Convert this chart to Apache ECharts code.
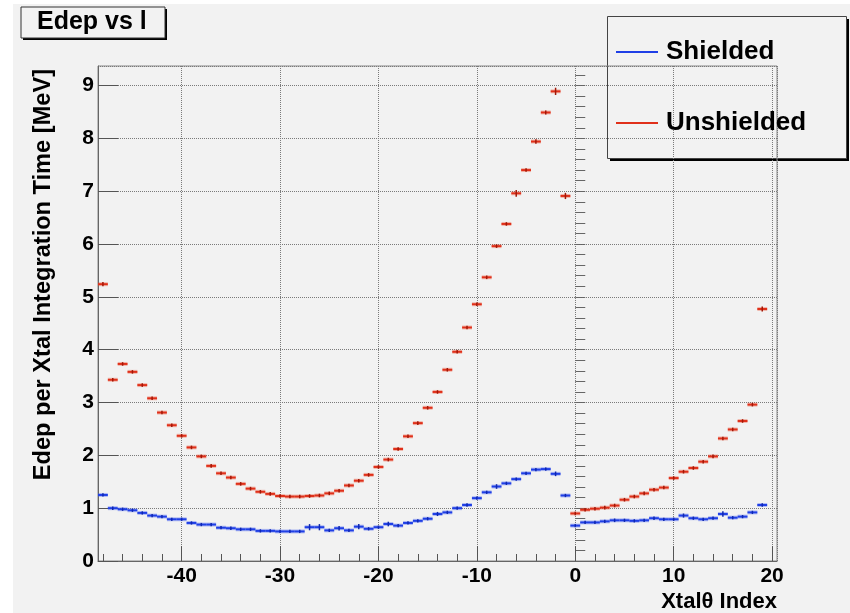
<!DOCTYPE html>
<html>
<head>
<meta charset="utf-8">
<script src="https://cdn.jsdelivr.net/npm/echarts@6/dist/echarts.min.js"></script>
<style>
  html, body { margin: 0; padding: 0; background: #ffffff; }
  #bg { position: absolute; left: 13px; top: 4px; width: 837px; height: 609px; background: #f2f2f2; }
  #chart { position: absolute; left: 0; top: 0; width: 850px; height: 613px; }
</style>
</head>
<body>
<div id="bg"></div>
<div id="chart"></div>
<script>
// ---- data (bin centers, Xtal theta index) ----
const bins = [-48,-47,-46,-45,-44,-43,-42,-41,-40,-39,-38,-37,-36,-35,-34,-33,-32,-31,-30,-29,
  -28,-27,-26,-25,-24,-23,-22,-21,-20,-19,-18,-17,-16,-15,-14,-13,-12,-11,-10,-9,
  -8,-7,-6,-5,-4,-3,-2,-1,0,1,2,3,4,5,6,7,8,9,10,11,12,13,14,15,16,17,18,19];

const unshielded = [5.24,3.43,3.73,3.58,3.33,3.08,2.81,2.57,2.37,2.15,
  1.98,1.80,1.66,1.58,1.46,1.37,1.31,1.27,1.23,1.22,
  1.22,1.23,1.24,1.28,1.33,1.43,1.52,1.63,1.78,1.92,
  2.12,2.36,2.61,2.90,3.20,3.62,3.96,4.42,4.86,5.37,
  5.96,6.38,6.96,7.40,7.94,8.49,8.89,6.91,
  0.90,0.97,0.99,1.01,1.05,1.16,1.22,1.28,1.35,1.39,
  1.57,1.69,1.76,1.88,1.98,2.32,2.49,2.65,2.96,4.77];

const shielded = [1.25,1.00,0.98,0.96,0.91,0.86,0.84,0.79,0.79,0.72,
  0.69,0.69,0.63,0.62,0.60,0.60,0.57,0.57,0.56,0.56,
  0.56,0.64,0.64,0.58,0.62,0.58,0.65,0.61,0.64,0.70,
  0.67,0.72,0.76,0.80,0.89,0.92,1.00,1.06,1.19,1.30,
  1.41,1.47,1.55,1.66,1.73,1.74,1.65,1.24,
  0.67,0.73,0.73,0.75,0.77,0.77,0.76,0.77,0.81,0.79,
  0.79,0.86,0.81,0.79,0.81,0.89,0.82,0.84,0.92,1.06];

const unshieldedErr = [0.02,0.015,0.015,0.015,0.015,0.015,0.015,0.015,0.015,0.015,
  0.015,0.015,0.015,0.015,0.015,0.015,0.015,0.015,0.015,0.015,
  0.015,0.015,0.015,0.015,0.015,0.015,0.015,0.015,0.015,0.015,
  0.015,0.015,0.015,0.015,0.015,0.015,0.015,0.015,0.015,0.015,
  0.015,0.015,0.045,0.015,0.025,0.02,0.05,0.04,
  0.015,0.015,0.015,0.015,0.015,0.015,0.015,0.015,0.015,0.015,
  0.015,0.015,0.015,0.015,0.015,0.015,0.015,0.015,0.015,0.03];

const shieldedErr = [0.012,0.015,0.012,0.012,0.012,0.012,0.012,0.012,0.012,0.012,
  0.012,0.012,0.012,0.012,0.012,0.012,0.012,0.012,0.012,0.012,
  0.012,0.04,0.04,0.012,0.025,0.012,0.03,0.012,0.012,0.025,
  0.012,0.012,0.012,0.012,0.02,0.012,0.012,0.012,0.012,0.012,
  0.025,0.012,0.012,0.012,0.012,0.012,0.025,0.012,
  0.012,0.012,0.012,0.012,0.015,0.012,0.012,0.012,0.015,0.012,
  0.012,0.02,0.012,0.012,0.012,0.035,0.012,0.012,0.012,0.012];

const xMajorTicks = [-40,-30,-20,-10,0,10,20];
const yMajorTicks = [0,1,2,3,4,5,6,7,8,9];
const xRange = [-48.5, 20.5];
const yRange = [0, 9.37];

// minor tick positions (axis decoration)
const xMinorTicks = [];
for (let v = -48; v <= 20; v += 2) xMinorTicks.push(v);
const yMinorTicks = [];
for (let k = 0; k <= 46; k++) yMinorTicks.push(Math.round(k * 20) / 100);

const FONT = '"Liberation Sans", Arial, Helvetica, sans-serif';
const BLUE = '#1f3fe6', BLUE_DARK = '#1028b0', BLUE_HALO = 'rgba(60,90,240,0.35)';
const RED = '#e0301a', RED_DARK = '#a01808', RED_HALO = 'rgba(235,80,50,0.35)';
const GRID_LINE = { color: '#7a7a7a', type: 'dotted', width: 1 };

function makeRender(color, dark, halo) {
  return function (params, api) {
    const x = api.value(0), y = api.value(1), e = api.value(2);
    const a = api.coord([x - 0.5, y]);
    const b = api.coord([x + 0.5, y]);
    const lo = api.coord([x, y - e]);
    const hi = api.coord([x, y + e]);
    return {
      type: 'group',
      children: [
        { type: 'line', shape: { x1: a[0], y1: a[1], x2: b[0], y2: b[1] }, style: { stroke: halo, lineWidth: 4 } },
        { type: 'line', shape: { x1: a[0], y1: a[1], x2: b[0], y2: b[1] }, style: { stroke: color, lineWidth: 2 } },
        { type: 'line', shape: { x1: lo[0], y1: lo[1] + 1, x2: hi[0], y2: hi[1] - 1 }, style: { stroke: dark, lineWidth: 1.5 } }
      ]
    };
  };
}

const chart = echarts.init(document.getElementById('chart'), null, { renderer: 'canvas' });

const axisCommon = {
  type: 'value',
  axisLine: { show: true, onZero: false, lineStyle: { color: '#666', width: 1 } },
};

chart.setOption({
  backgroundColor: 'transparent',
  animation: false,
  title: {
    text: 'Edep vs l',
    left: 37, top: 10, padding: 0,
    textStyle: { fontFamily: FONT, fontSize: 25, fontWeight: 'bold', color: '#000' }
  },
  legend: {
    orient: 'vertical',
    left: 616, top: 39,
    itemGap: 45,
    itemWidth: 42, itemHeight: 2,
    selectedMode: false,
    padding: 0,
    textStyle: { fontFamily: FONT, fontSize: 26, fontWeight: 'bold', color: '#000', lineHeight: 26, padding: [0, 0, 0, 3] },
    data: [
      { name: 'Shielded', icon: 'rect', itemStyle: { color: BLUE } },
      { name: 'Unshielded', icon: 'rect', itemStyle: { color: RED } }
    ]
  },
  grid: {
    left: 98, right: 73, top: 66, bottom: 52,
    show: true, borderColor: '#888', borderWidth: 1, backgroundColor: 'transparent'
  },
  xAxis: [
    Object.assign({}, axisCommon, {
      min: xRange[0], max: xRange[1], position: 'bottom',
      axisTick: { show: true, inside: true, length: 15, customValues: xMajorTicks, lineStyle: { color: '#555' } },
      axisLabel: { show: true, customValues: xMajorTicks, margin: 5, fontFamily: FONT, fontSize: 21, fontWeight: 'bold', color: '#000' },
      splitLine: { show: false }
    }),
    Object.assign({}, axisCommon, {
      min: xRange[0], max: xRange[1], position: 'bottom',
      axisLine: { show: false },
      axisTick: { show: true, inside: true, length: 7, customValues: xMinorTicks, lineStyle: { color: '#555' } },
      axisLabel: { show: false },
      splitLine: { show: false }
    }),
    // grid-line axis: auto ticks every 10 between the fixed bounds
    {
      type: 'value', min: xRange[0], max: xRange[1], position: 'bottom',
      axisLine: { show: false }, axisTick: { show: false }, axisLabel: { show: false },
      splitLine: { show: true, lineStyle: GRID_LINE }
    }
  ],
  yAxis: [
    Object.assign({}, axisCommon, {
      min: yRange[0], max: yRange[1], position: 'left',
      axisTick: { show: true, inside: true, length: 20, customValues: yMajorTicks, lineStyle: { color: '#555' } },
      axisLabel: { show: true, customValues: yMajorTicks, margin: 4, fontFamily: FONT, fontSize: 21, fontWeight: 'bold', color: '#000' },
      splitLine: { show: false }
    }),
    Object.assign({}, axisCommon, {
      min: yRange[0], max: yRange[1], position: 'left',
      axisLine: { show: false },
      axisTick: { show: true, inside: true, length: 10, customValues: yMinorTicks, lineStyle: { color: '#666' } },
      axisLabel: { show: false },
      splitLine: { show: false }
    }),
    {
      type: 'value', min: yRange[0], max: yRange[1], interval: 1, position: 'left',
      axisLine: { show: false }, axisTick: { show: false }, axisLabel: { show: false },
      splitLine: { show: true, lineStyle: GRID_LINE }
    }
  ],
  graphic: [
    // title box
    { type: 'rect', z: -2, shape: { x: 23, y: 9, width: 144, height: 31 }, style: { fill: '#000' } },
    { type: 'rect', z: -1, shape: { x: 21, y: 7, width: 144, height: 31 }, style: { fill: '#f2f2f2', stroke: '#333', lineWidth: 1 } },
    // legend box
    { type: 'rect', z: -2, shape: { x: 610, y: 19, width: 239, height: 142 }, style: { fill: '#000' } },
    { type: 'rect', z: -1, shape: { x: 607.5, y: 16.5, width: 239, height: 142 }, style: { fill: '#f2f2f2', stroke: '#444', lineWidth: 1 } },
    // axis titles
    { type: 'text', x: 43, y: 69, rotation: Math.PI / 2,
      style: { text: 'Edep per Xtal Integration Time [MeV]', font: 'bold 23.6px ' + FONT, fill: '#000', align: 'right', verticalAlign: 'middle' } },
    { type: 'text', x: 777, y: 602,
      style: { text: 'Xtal\u03b8 Index', font: 'bold 22px ' + FONT, fill: '#000', align: 'right', verticalAlign: 'middle' } }
  ],
  series: [
    {
      name: 'Shielded', type: 'custom', xAxisIndex: 0, yAxisIndex: 0,
      itemStyle: { color: BLUE },
      renderItem: makeRender(BLUE, BLUE_DARK, BLUE_HALO),
      encode: { x: 0, y: 1 },
      data: bins.map((b, i) => [b, shielded[i], shieldedErr[i]]),
      z: 3
    },
    {
      name: 'Unshielded', type: 'custom', xAxisIndex: 0, yAxisIndex: 0,
      itemStyle: { color: RED },
      renderItem: makeRender(RED, RED_DARK, RED_HALO),
      encode: { x: 0, y: 1 },
      data: bins.map((b, i) => [b, unshielded[i], unshieldedErr[i]]),
      z: 3
    }
  ]
});
</script>
</body>
</html>
